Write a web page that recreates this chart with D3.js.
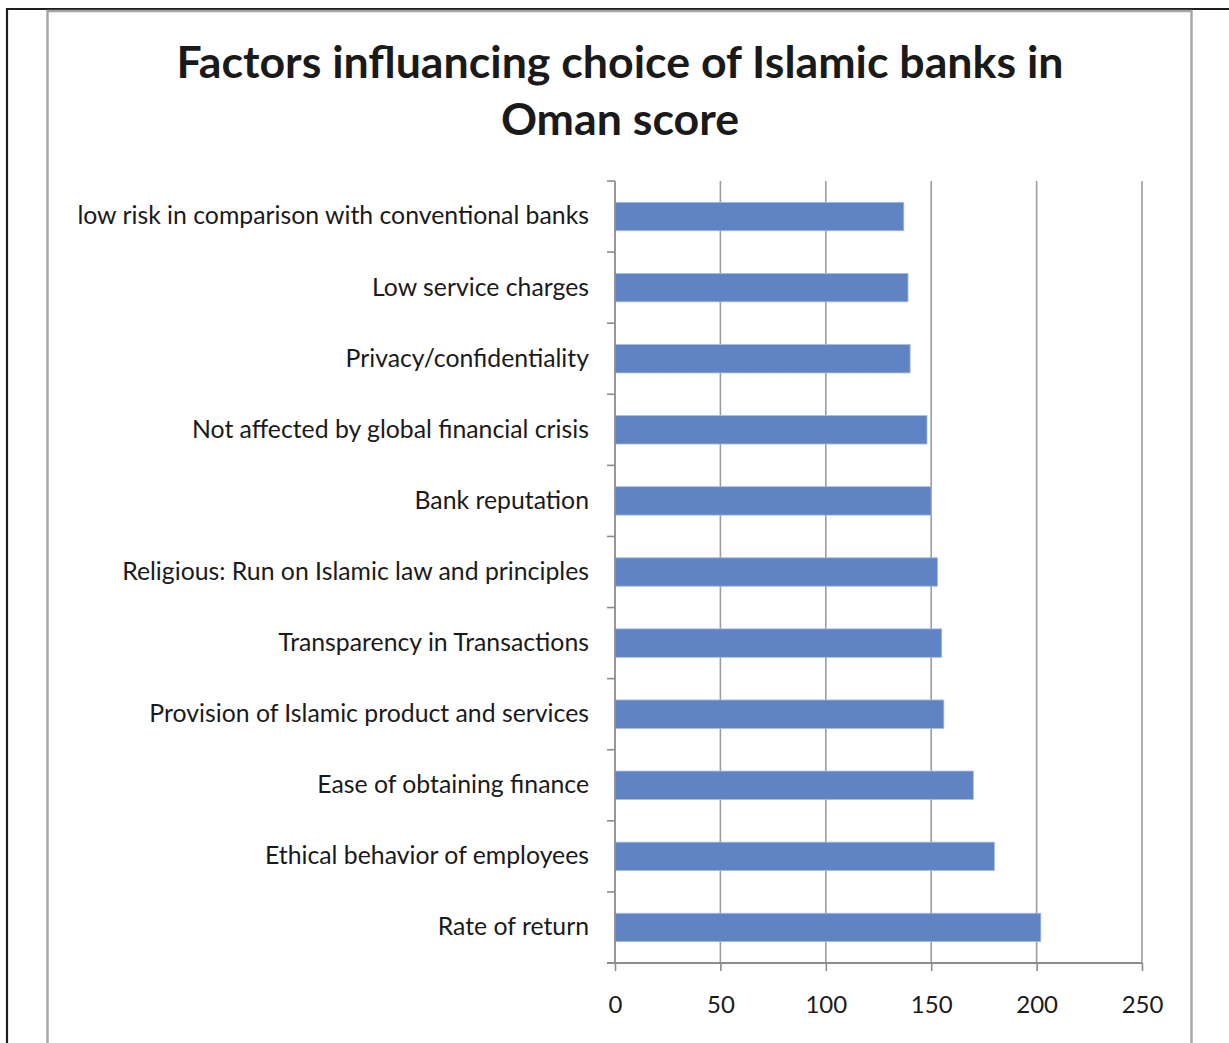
<!DOCTYPE html>
<html>
<head>
<meta charset="utf-8">
<script src="https://cdn.jsdelivr.net/npm/d3@7"></script>
<style>
  html, body { margin: 0; padding: 0; background: #fff; }
  svg { display: block; }
</style>
</head>
<body>
<svg id="chart" width="1229" height="1043"></svg>
<script>
// Factors, listed top to bottom as they appear on the chart
const categories = [
  "low risk in comparison with conventional banks",
  "Low service charges",
  "Privacy/confidentiality",
  "Not affected by global financial crisis",
  "Bank reputation",
  "Religious: Run on Islamic law and principles",
  "Transparency in Transactions",
  "Provision of Islamic product and services",
  "Ease of obtaining finance",
  "Ethical behavior of employees",
  "Rate of return"
];
const scores = [137, 139, 140, 148, 150, 153, 155, 156, 170, 180, 202];
const xTicks = [0, 50, 100, 150, 200, 250];
const titleLines = ["Factors influancing choice of Islamic banks in", "Oman score"];

const svg = d3.select("#chart");
const font = "Lato, 'Open Sans', sans-serif";

// page frame and chart-area border
svg.append("line").attr("x1", 7).attr("x2", 1229).attr("y1", 9).attr("y2", 9)
  .attr("stroke", "#1e1e1e").attr("stroke-width", 2.2);
svg.append("line").attr("x1", 7).attr("x2", 7).attr("y1", 8).attr("y2", 1043)
  .attr("stroke", "#1e1e1e").attr("stroke-width", 2.2);
svg.append("path")
  .attr("d", "M47.5,1043 V11 H1191.5 V1043")
  .attr("fill", "none").attr("stroke", "#a4a4a8").attr("stroke-width", 2.4);

// title
svg.append("g").selectAll("text").data(titleLines).join("text")
  .attr("x", 620).attr("y", (d, i) => 78 + i * 57)
  .attr("text-anchor", "middle")
  .attr("font-family", font).attr("font-weight", "bold")
  .attr("font-size", 44.7).attr("fill", "#1a1a1a")
  .text(d => d);

// plot scales
const plot = { left: 615, right: 1142, top: 181, bottom: 963 };
const x = d3.scaleLinear().domain([0, 250]).range([plot.left, plot.right]);
const y = d3.scaleBand().domain(categories).range([plot.top, plot.bottom])
  .paddingInner(0.6).paddingOuter(0.3);

// vertical gridlines
svg.append("g").selectAll("line").data(xTicks.slice(1)).join("line")
  .attr("x1", d => x(d)).attr("x2", d => x(d))
  .attr("y1", plot.top).attr("y2", plot.bottom)
  .attr("stroke", "#9c9c9c").attr("stroke-width", 1.6);

// bars
svg.append("g").selectAll("rect").data(categories).join("rect")
  .attr("x", x(0))
  .attr("y", d => y(d))
  .attr("width", (d, i) => x(scores[i]) - x(0))
  .attr("height", y.bandwidth())
  .attr("fill", "#6083c4")
  .attr("stroke", "#a9bce0").attr("stroke-width", 0.8);

// category axis: labels from the band scale, tick marks on band boundaries
const yAxis = svg.append("g").attr("transform", `translate(${plot.left},0)`)
  .call(d3.axisLeft(y).tickSize(0).tickPadding(26));
yAxis.select(".domain").remove();
yAxis.selectAll("text")
  .attr("font-family", font).attr("font-size", 24.8).attr("fill", "#1a1a1a");

const boundaries = d3.range(categories.length + 1)
  .map(i => plot.top + i * (plot.bottom - plot.top) / categories.length);
svg.append("g").selectAll("line").data(boundaries).join("line")
  .attr("x1", plot.left - 8).attr("x2", plot.left)
  .attr("y1", d => d).attr("y2", d => d)
  .attr("stroke", "#8c8c8c").attr("stroke-width", 1.6);
svg.append("line")
  .attr("x1", plot.left).attr("x2", plot.left)
  .attr("y1", plot.top).attr("y2", plot.bottom)
  .attr("stroke", "#8c8c8c").attr("stroke-width", 1.8);

// value axis
const xAxis = svg.append("g").attr("transform", `translate(0,${plot.bottom})`)
  .call(d3.axisBottom(x).tickValues(xTicks).tickSize(8).tickPadding(25).tickSizeOuter(0));
xAxis.select(".domain").remove();
xAxis.selectAll(".tick line").attr("stroke", "#8c8c8c").attr("stroke-width", 1.6);
xAxis.selectAll("text")
  .attr("font-family", font).attr("font-size", 24).attr("fill", "#1a1a1a");
svg.append("line")
  .attr("x1", plot.left - 8).attr("x2", plot.right)
  .attr("y1", plot.bottom).attr("y2", plot.bottom)
  .attr("stroke", "#8c8c8c").attr("stroke-width", 1.8);
</script>
</body>
</html>
